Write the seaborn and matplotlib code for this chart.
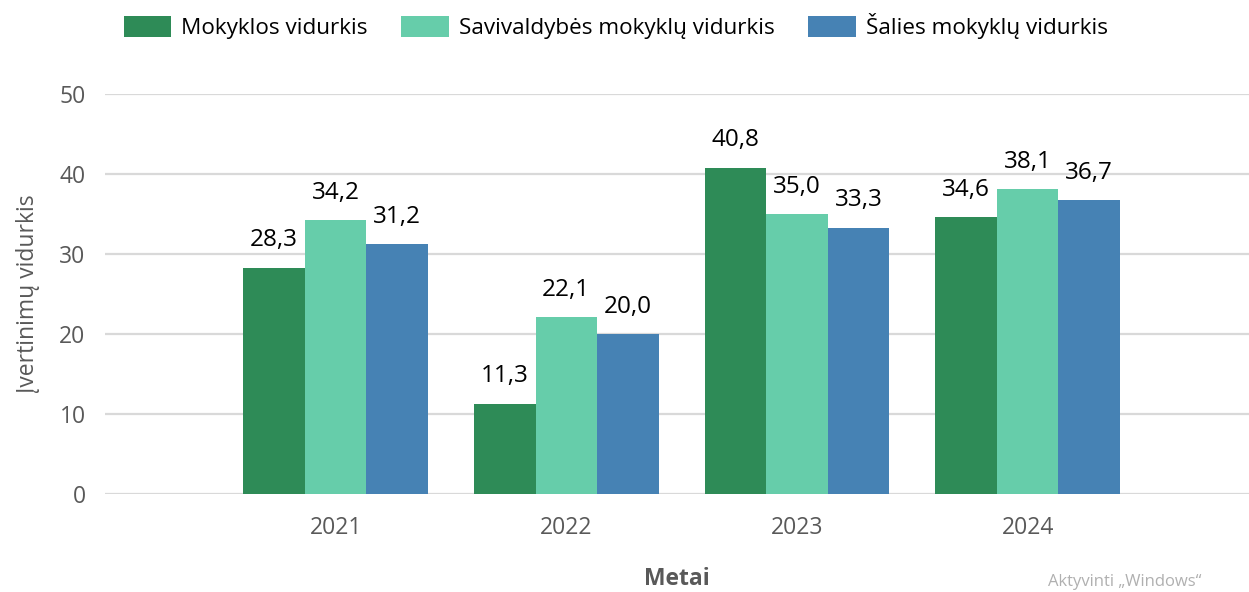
import pandas as pd
import matplotlib
matplotlib.use("Agg")
import matplotlib.pyplot as plt
import seaborn as sns

# chart data
years = ["2021", "2022", "2023", "2024"]
series = ["Mokyklos vidurkis", "Savivaldybės mokyklų vidurkis", "Šalies mokyklų vidurkis"]
mokyklos = [28.3, 11.3, 40.8, 34.6]
savivaldybes = [34.2, 22.1, 35.0, 38.1]
salies = [31.2, 20.0, 33.3, 36.7]
colors = ["#2E8B57", "#66CDAA", "#4682B4"]

rows = []
for name, vals in zip(series, [mokyklos, savivaldybes, salies]):
    for y, v in zip(years, vals):
        rows.append({"Metai": y, "Serija": name, "Reikšmė": v})
df = pd.DataFrame(rows)

sns.set_style("white")
plt.rcParams["font.family"] = ["Open Sans", "DejaVu Sans"]

fig = plt.figure(figsize=(12.49, 5.92), dpi=100)
ax = fig.add_axes([105 / 1249, 98 / 592, 1 - 105 / 1249, 400 / 592])

sns.barplot(data=df, x="Metai", y="Reikšmė", hue="Serija", palette=colors,
            order=years, hue_order=series, width=0.8, saturation=1,
            edgecolor="none", ax=ax)

ax.set_xlim(-1.0, 3.96)
ax.set_ylim(0, 50)
ax.set_yticks(range(0, 51, 10))
ax.yaxis.grid(True, color="#d9d9d9", linewidth=1.6)
ax.set_axisbelow(True)
for s in ax.spines.values():
    s.set_visible(False)
ax.tick_params(axis="both", length=0, labelsize=16.5, colors="#595959")
ax.tick_params(axis="y", pad=14)
ax.tick_params(axis="x", pad=16)

for cont in ax.containers:
    ax.bar_label(cont, labels=[f"{v:.1f}".replace(".", ",") for v in cont.datavalues],
                 padding=11, fontsize=17.5, color="black")

ax.set_ylabel("Įvertinimų vidurkis", fontsize=16.5, color="#595959", labelpad=14)
ax.set_xlabel("Metai", fontsize=16.5, fontweight="bold", color="#595959", labelpad=19)

handles, labels = ax.get_legend_handles_labels()
ax.legend_.remove()
fig.legend(handles, labels, loc="upper center", bbox_to_anchor=(0.493, 1.012),
           ncol=3, frameon=False, fontsize=16.2, labelcolor="black",
           handlelength=2.1, handleheight=1.0, handletextpad=0.45, columnspacing=1.5)

# faint watermark at the bottom right, as in the source screenshot
fig.text(1048 / 1249, 2 / 592, "Aktyvinti „Windows“", fontsize=12,
         color="#b0b0b0", va="bottom", ha="left")

fig.savefig("out.png", dpi=100)
